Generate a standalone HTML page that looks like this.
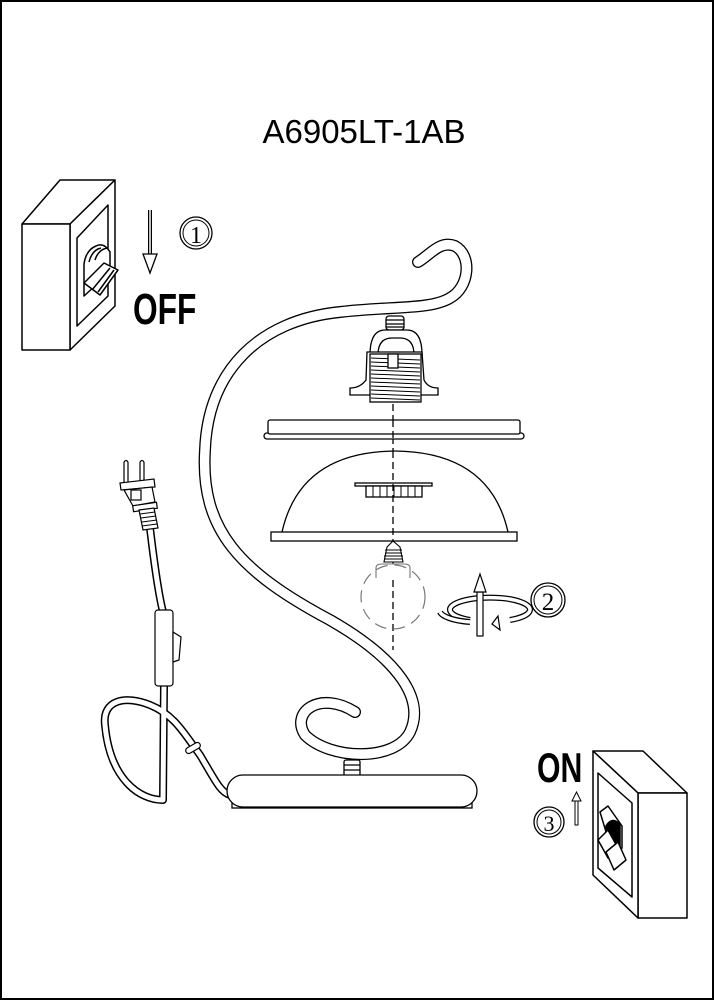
<!DOCTYPE html>
<html><head><meta charset="utf-8"><style>
html,body{margin:0;padding:0;background:#fff}
svg{display:block}
</style></head><body>
<svg width="714" height="1000" viewBox="0 0 714 1000" xmlns="http://www.w3.org/2000/svg" font-family="Liberation Sans, sans-serif">
<rect x="1" y="1" width="712" height="998" fill="#fff" stroke="#000" stroke-width="2"/>
<text x="364" y="143" font-size="33" text-anchor="middle">A6905LT-1AB</text>

<!-- OFF switch -->
<g fill="#fff" stroke="#000" stroke-width="1.5" stroke-linejoin="round">
<polygon points="22,224 60,180 115,180 70,224"/>
<polygon points="70,224 115,180 115,306 70,350"/>
<rect x="22" y="224" width="48" height="126"/>
<polygon points="77,238 108,205 108,296 77,326"/>
<path d="M84,264 q2,-14 12,-18 q8,-4 14,6 l0,20 l-26,24 z"/>
<path d="M89,262 q3,-12 12,-14"/><path d="M95,260 q3,-10 12,-12"/>
<polygon points="84,283 104,263 118,270 100,295"/>
<line x1="92" y1="290" x2="110" y2="268"/><line x1="98" y1="292" x2="114" y2="270"/>
</g>
<line x1="150" y1="210" x2="150" y2="255" stroke="#000" stroke-width="4"/>
<line x1="150" y1="210" x2="150" y2="255" stroke="#fff" stroke-width="1.5"/>
<polygon points="143,254 157,254 150,273" fill="#fff" stroke="#000" stroke-width="1.3"/>
<circle cx="196" cy="233" r="16" fill="none" stroke="#000" stroke-width="1.3"/>
<circle cx="196" cy="233" r="13" fill="none" stroke="#000" stroke-width="1"/>
<text x="196" y="243" font-size="24" font-family="Liberation Serif, serif" text-anchor="middle">1</text>
<text x="133" y="324" font-size="44" font-weight="bold" transform="translate(133 0) scale(0.72 1) translate(-133 0)">OFF</text>

<!-- dashed center -->
<line x1="393" y1="316" x2="393" y2="650" stroke="#000" stroke-width="1.3" stroke-dasharray="7,4"/>

<!-- arm -->
<g fill="none" stroke-linecap="round">
<path d="M418,262 C430,255 440,240 455,246 C472,255 470,287 450,298 C430,310 390,306 340,312 C260,320 208,370 205,450 C200,530 240,572 330,620 C400,660 425,700 410,732 C395,762 330,760 305,735 C290,712 320,690 355,712" stroke="#000" stroke-width="12"/>
<path d="M418,262 C430,255 440,240 455,246 C472,255 470,287 450,298 C430,310 390,306 340,312 C260,320 208,370 205,450 C200,530 240,572 330,620 C400,660 425,700 410,732 C395,762 330,760 305,735 C290,712 320,690 355,712" stroke="#fff" stroke-width="9.4"/>
</g>

<!-- holder -->
<g fill="#fff" stroke="#000" stroke-width="1.3">
<rect x="386" y="316" width="18" height="14" rx="3"/>
<line x1="386" y1="320" x2="404" y2="320"/><line x1="386" y1="324" x2="404" y2="324"/><line x1="386" y1="327" x2="404" y2="327"/>
<path d="M370,355 Q370,330 385,330 L407,330 Q422,330 422,355 Z"/>
<path d="M378,355 Q378,338 392,338 L400,338 Q414,338 414,355"/>
<path d="M367,352 L422,352 L424,380 Q428,388 438,388 L438,395 L350,395 L350,388 Q360,388 366,380 Z"/>
<rect x="370" y="354" width="51" height="48"/>
<g stroke-width="1">
<line x1="371" y1="358" x2="420" y2="360"/><line x1="371" y1="362" x2="420" y2="364"/><line x1="371" y1="366" x2="420" y2="368"/><line x1="371" y1="370" x2="420" y2="372"/><line x1="371" y1="374" x2="420" y2="376"/><line x1="371" y1="378" x2="420" y2="380"/><line x1="371" y1="382" x2="420" y2="384"/><line x1="371" y1="386" x2="420" y2="388"/><line x1="371" y1="390" x2="420" y2="392"/><line x1="371" y1="394" x2="420" y2="396"/><line x1="371" y1="398" x2="420" y2="400"/>
</g>
<rect x="388" y="354" width="10" height="14"/>
</g>

<!-- ring -->
<g fill="#fff" stroke="#000" stroke-width="1.3">
<rect x="264" y="433" width="260" height="6" rx="3"/>
<rect x="268" y="420" width="252" height="14" rx="2"/>
</g>
<line x1="393" y1="420" x2="393" y2="440" stroke="#000" stroke-width="1.3" stroke-dasharray="7,4"/>

<!-- dome -->
<g fill="#fff" stroke="#000" stroke-width="1.3">
<path d="M282,532 Q300,452 395,451 Q490,452 508,532"/>
<rect x="271" y="532" width="246" height="9"/>
<rect x="355" y="483" width="77" height="3"/>
<rect x="366" y="486" width="56" height="11"/>
<path d="M373,486v11M380,486v11M387,486v11M394,486v11M401,486v11M408,486v11M415,486v11" stroke-width="1"/>
</g>
<line x1="393" y1="451" x2="393" y2="541" stroke="#000" stroke-width="1.3" stroke-dasharray="7,4"/>

<!-- bulb -->
<g fill="#fff" stroke="#000" stroke-width="1.1">
<path d="M384,562 L387,547 L393,541 L400,547 L403,562 Z"/>
<path d="M385,550h17M385,553h17M384,556h19M384,559h19" stroke-width="0.9"/>
<path d="M376,578 L376,568 Q376,564 382,564 L404,564 Q410,564 410,568 L410,578" stroke="#777"/>
</g>
<circle cx="393" cy="597" r="32" fill="none" stroke="#777" stroke-width="1.2" stroke-dasharray="12,7"/>

<!-- rotate icon -->
<g fill="#fff" stroke="#000" stroke-width="1.2">
<path d="M470,620 A40,12 0 1,1 510,620" fill="none" stroke-width="6"/>
<path d="M470,620 A40,12 0 1,1 510,620" fill="none" stroke="#fff" stroke-width="3.5"/>
<rect x="477" y="592" width="6" height="44"/>
<polygon points="474,592 486,592 480,574"/>
<path d="M440,612 A40,12 0 0,0 470,622" fill="none" stroke-width="6"/>
<path d="M440,612 A40,12 0 0,0 470,622" fill="none" stroke="#fff" stroke-width="3.5"/>
<polygon points="498,616 492,624 500,630"/>
</g>
<circle cx="548" cy="600" r="17" fill="none" stroke="#000" stroke-width="1.3"/>
<circle cx="548" cy="600" r="14" fill="none" stroke="#000" stroke-width="1"/>
<text x="548" y="610" font-size="25" font-family="Liberation Serif, serif" text-anchor="middle">2</text>

<!-- cord -->
<g fill="none" stroke-linecap="round">
<path d="M150,528 C155,570 160,600 163,612 M164,684 L163,800 M163,800 C140,800 110,780 105,725 C102,700 125,695 150,705 C175,715 185,735 200,755 C215,780 220,792 230,795" stroke="#000" stroke-width="8"/>
<path d="M150,528 C155,570 160,600 163,612 M164,684 L163,800 M163,800 C140,800 110,780 105,725 C102,700 125,695 150,705 C175,715 185,735 200,755 C215,780 220,792 230,795" stroke="#fff" stroke-width="5"/>
</g>
<g fill="#fff" stroke="#000" stroke-width="1.2">
<rect x="155" y="610" width="18" height="76" rx="3"/>
<path d="M173,632 L181,637 L179,660 L173,662 Z"/>
<rect x="185" y="745" width="16" height="6" rx="3" transform="rotate(-30 193 748)"/>
<path d="M124,482 L124,462 M128,482 L128,462 M140,482 L140,462 M144,482 L144,462"/>
<path d="M124,462 q2,-3 4,0 M140,462 q2,-3 4,0"/>
<path d="M120,483 L154,479 L155,487 L121,490 Z"/>
<path d="M124,490 L152,487 L155,502 L133,506 Z"/>
<rect x="131" y="490" width="10" height="10"/>
<rect x="133" y="504" width="24" height="6" transform="rotate(-8 145 507)"/>
<path d="M139,510 L154,508 L158,528 L143,530 Z"/>
<path d="M140,514l15,-2M141,518l15,-2M142,522l15,-2M142,526l15,-2" stroke-width="1"/>
</g>

<!-- base -->
<g fill="#fff" stroke="#000" stroke-width="1.3">
<rect x="344" y="760" width="16" height="16" rx="2"/>
<path d="M344,765h16M344,770h16"/>
<rect x="232" y="802" width="240" height="6"/>
<rect x="227" y="775" width="250" height="32" rx="16"/>
</g>

<!-- ON switch -->
<g fill="#fff" stroke="#000" stroke-width="1.5" stroke-linejoin="round">
<polygon points="593,751 643,751 687,793 638,793"/>
<rect x="638" y="793" width="49" height="125"/>
<polygon points="593,751 638,793 638,918 593,875"/>
<polygon points="598,773 632,803 632,897 598,868"/>
<path d="M600,812 l8,-6 l14,20 l0,22 l-8,10 z"/>
<path d="M606,826 q6,-10 14,-2 l0,24 q-8,6 -14,-4 z" fill="#000"/>
<polygon points="598,840 608,830 618,848 608,858"/>
<polygon points="606,852 618,842 626,860 614,870"/>
</g>
<text x="537" y="782" font-size="42" font-weight="bold" transform="translate(537 0) scale(0.72 1) translate(-537 0)">ON</text>
<circle cx="549" cy="822" r="15" fill="none" stroke="#000" stroke-width="1.3"/>
<circle cx="549" cy="822" r="12" fill="none" stroke="#000" stroke-width="1"/>
<text x="549" y="831" font-size="22" font-family="Liberation Serif, serif" text-anchor="middle">3</text>
<rect x="575" y="800" width="3" height="25" fill="#fff" stroke="#000" stroke-width="1"/>
<polygon points="572,801 581,801 576.5,792" fill="#fff" stroke="#000" stroke-width="1"/>
</svg>
</body></html>
